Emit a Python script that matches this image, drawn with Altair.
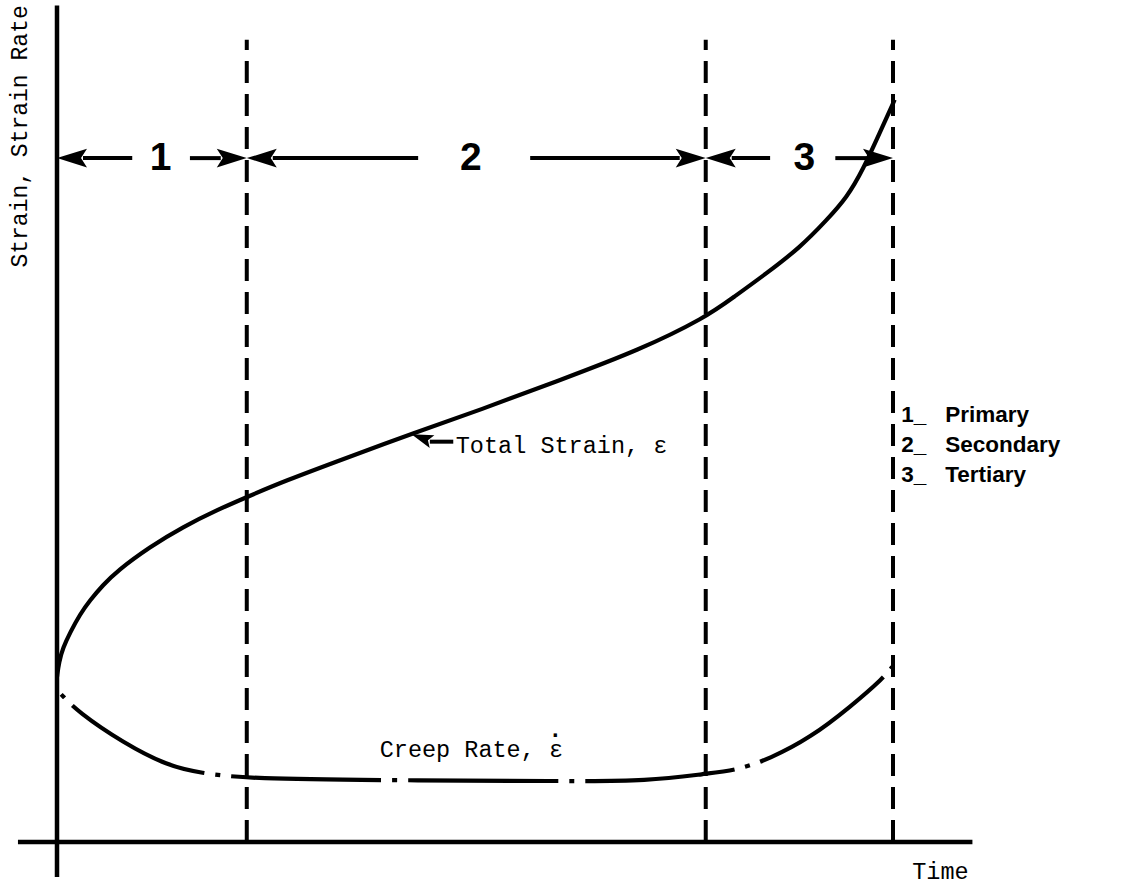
import altair as alt
import pandas as pd

# ---- data (time in % of time-to-rupture, strain in arbitrary units) ----
stage_bounds = [22.7, 77.6, 100.0]          # ends of stages 1, 2, 3
stage_starts = [0.0, 22.7, 77.6]
stage_names = ["1", "2", "3"]
stage_name_t = [12.4, 49.5, 89.4]
gap_left = [9.0, 43.2, 85.3]                 # shaft ends left of each number
gap_right = [15.9, 56.6, 93.1]               # shaft starts right of each number
arrow_row = 82.0

strain_t = [0.0, 0.24, 0.72, 1.56, 2.75, 3.95, 5.5, 7.18, 11.1, 15.1, 19.1,
            22.8, 27.0, 35.0, 42.6, 50.6, 60.2, 69.7, 77.6, 80.9, 84.9, 88.9,
            92.1, 94.5, 96.4, 98.4, 100.2]
strain_v = [19.8, 21.6, 23.3, 25.1, 27.3, 29.0, 30.8, 32.5, 35.4, 37.8, 39.8,
            41.4, 43.2, 46.2, 49.0, 51.8, 55.4, 59.0, 62.9, 65.3, 68.2, 71.3,
            74.6, 77.3, 80.6, 85.0, 89.0]

rate_t = [0.5, 2.5, 7.9, 13.3, 17.1, 22.8, 41.0, 60.2, 70.9, 77.6, 81.3,
          85.3, 90.1, 94.9, 99.0, 99.9]
rate_v = [17.7, 15.6, 11.9, 9.1, 8.3, 7.55, 7.4, 7.3, 7.3, 8.2, 8.6,
          10.0, 12.5, 16.2, 19.8, 21.0]

SP = "\u00a0\u00a0\u00a0"
legend_lines = ["1_" + SP + "Primary", "2_" + SP + "Secondary",
                "3_" + SP + "Tertiary"]
legend_y = [51.2, 47.6, 44.0]

# ---- layout ----
W, H = 1127, 891
PX_T, PX_V = 8.36, 8.34          # pixels per unit on each axis
ORIGIN_X, ORIGIN_Y = 57, 842     # where the axes cross
xdom = [-ORIGIN_X / PX_T, (W - ORIGIN_X) / PX_T]
ydom = [(ORIGIN_Y - H) / PX_V, ORIGIN_Y / PX_V]
xs = alt.Scale(domain=xdom, nice=False, zero=False)
ys = alt.Scale(domain=ydom, nice=False, zero=False)

MONO = "Courier New, Courier, Liberation Mono, monospace"
SANS = "Liberation Sans, Arial, Helvetica, sans-serif"
LABEL_FS = 23.5


def X(f):
    return alt.X(f, type="quantitative", scale=xs, axis=None)


def Y(f):
    return alt.Y(f, type="quantitative", scale=ys, axis=None)


# axes drawn as plain strokes that overshoot the origin
axes_df = pd.DataFrame({
    "x": [0.0, -4.67], "x2": [0.0, 109.5],
    "y": [-4.2, 0.0], "y2": [100.3, 0.0],
})
axes = alt.Chart(axes_df).mark_rule(strokeWidth=4.5, color="black").encode(
    x=X("x"), x2="x2", y=Y("y"), y2="y2")

bounds_df = pd.DataFrame({"t": stage_bounds, "lo": 0.0, "hi": 96.2})
bounds = alt.Chart(bounds_df).mark_rule(
    strokeWidth=4, strokeDash=[22, 11], color="black").encode(
    x=X("t"), y=Y("lo"), y2="hi")

strain_df = pd.DataFrame({"t": strain_t, "v": strain_v})
strain = alt.Chart(strain_df).mark_line(
    interpolate="basis", strokeWidth=4.2, color="black").encode(
    x=X("t"), y=Y("v"))

rate_df = pd.DataFrame({"t": rate_t, "v": rate_v})
rate = alt.Chart(rate_df).mark_line(
    interpolate="basis", strokeWidth=4.2, color="black",
    strokeDash=[150, 11, 5, 11], strokeDashOffset=161).encode(
    x=X("t"), y=Y("v"))

# stage arrows: shafts + heads
HEAD = "M0,0 L-2,-0.62 L-1.6,0 L-2,0.62 Z"
head_len = 26 / PX_T
shafts, heads = [], []
for s0, s1, gl, gr in zip(stage_starts, stage_bounds, gap_left, gap_right):
    shafts.append({"a": s0 + head_len, "b": gl, "y": arrow_row})
    shafts.append({"a": gr, "b": s1 - head_len, "y": arrow_row})
    heads.append({"t": s0, "y": arrow_row, "ang": 180})
    heads.append({"t": s1, "y": arrow_row, "ang": 0})
shaft_layer = alt.Chart(pd.DataFrame(shafts)).mark_rule(
    strokeWidth=4, color="black").encode(x=X("a"), x2="b", y=Y("y"))
head_layer = alt.Chart(pd.DataFrame(heads)).mark_point(
    shape=HEAD, size=900, filled=True, color="black", opacity=1).encode(
    x=X("t"), y=Y("y"), angle=alt.Angle("ang:Q", scale=None))

numbers = alt.Chart(pd.DataFrame({"t": stage_name_t, "y": arrow_row,
                                  "s": stage_names})).mark_text(
    font=SANS, fontWeight="bold", fontSize=39, baseline="middle",
    align="center", color="black").encode(x=X("t"), y=Y("y"), text="s:N")

# "Total Strain" pointer
tip_t, tip_v = 42.4, 48.9
ptr_head = alt.Chart(pd.DataFrame({"t": [tip_t], "y": [tip_v], "ang": [200]})).mark_point(
    shape=HEAD, size=480, filled=True, color="black", opacity=1).encode(
    x=X("t"), y=Y("y"), angle=alt.Angle("ang:Q", scale=None))
ptr_shaft = alt.Chart(pd.DataFrame({"a": [tip_t + 2.2], "b": [tip_t + 5.0],
                                    "y": [tip_v - 0.9]})).mark_rule(
    strokeWidth=4, color="black").encode(x=X("a"), x2="b", y=Y("y"))

labels_df = pd.DataFrame({
    "t": [tip_t + 5.3, 38.6, 102.3],
    "y": [tip_v - 1.4, 11.0, -3.6],
    "s": ["Total Strain, \u03b5", "Creep Rate, \u03b5", "Time"],
})
labels = alt.Chart(labels_df).mark_text(
    font=MONO, fontSize=LABEL_FS, align="left", baseline="middle",
    color="black").encode(x=X("t"), y=Y("y"), text="s:N")

# time-derivative dot over the epsilon of "Creep Rate"
rate_dot = alt.Chart(pd.DataFrame({"t": [38.6], "y": [11.0], "s": ["\u00b7"]})).mark_text(
    font=SANS, fontWeight="bold", fontSize=LABEL_FS, align="center",
    baseline="middle", dx=12.5 * 0.6 * LABEL_FS, dy=-0.62 * LABEL_FS,
    color="black").encode(x=X("t"), y=Y("y"), text="s:N")

ylab = alt.Chart(pd.DataFrame({"t": [-4.45], "y": [84.6],
                               "s": ["Strain, Strain Rate"]})).mark_text(
    font=MONO, fontSize=23, angle=270, align="center", baseline="middle",
    color="black").encode(x=X("t"), y=Y("y"), text="s:N")

legend = alt.Chart(pd.DataFrame({"t": 101.0, "y": legend_y,
                                 "s": legend_lines})).mark_text(
    font=SANS, fontWeight="bold", fontSize=22.5, align="left",
    baseline="middle", color="black").encode(x=X("t"), y=Y("y"), text="s:N")

chart = alt.layer(
    axes, bounds, strain, rate, shaft_layer, head_layer, numbers,
    ptr_shaft, ptr_head, labels, rate_dot, ylab, legend,
).properties(
    width=W, height=H, autosize=alt.AutoSizeParams(type="none"),
    padding=0, background="white",
).configure_view(stroke=None)

chart.save("out.html", embed_options={"renderer": "svg", "actions": False})
